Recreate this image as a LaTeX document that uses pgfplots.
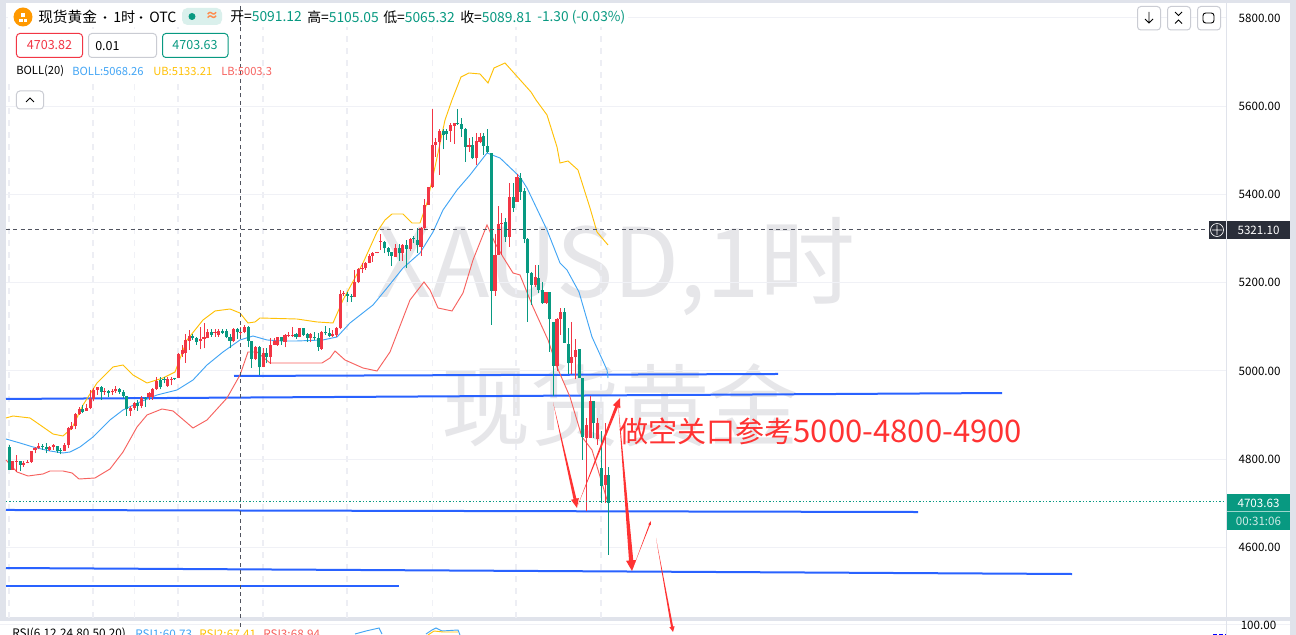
\documentclass[border=0pt]{standalone}
\usepackage{fontspec}
\setmainfont{Noto Sans CJK SC}
\usepackage{pgfplots}
\usepackage{pgfplotstable}
\pgfplotsset{compat=1.18}
\usetikzlibrary{calc}
\definecolor{cUp}{HTML}{F23645}
\definecolor{cDn}{HTML}{089981}
\definecolor{cBand}{HTML}{E0E3EB}
\definecolor{cGrid}{HTML}{F0F1F6}
\definecolor{cMark}{HTML}{E6E6E9}
\definecolor{cBoll}{HTML}{42A5F5}
\definecolor{cUB}{HTML}{FFC107}
\definecolor{cLB}{HTML}{F7625F}
\definecolor{cTrend}{HTML}{2962FF}
\definecolor{cArrow}{HTML}{FF3333}
\definecolor{cCross}{HTML}{50535E}
\definecolor{cTag}{HTML}{2A2E39}
\tikzset{px/.style={x=.75pt,y=-.75pt,xshift=-4.5pt,yshift=463.5pt}}
\newcommand\taper[7]{%
  \coordinate (S) at (axis cs:#1,#2);
  \coordinate (E) at (axis cs:#3,#4);
  \coordinate (H) at ($(E)!#6!(S)$);
  \fill[cArrow] (S) -- ($(H)!#5!90:(S)$) -- ($(H)!#7!90:(S)$) -- (E)
    -- ($(H)!#7!-90:(S)$) -- ($(H)!#5!-90:(S)$) -- cycle;
}
% candles: x(pixel) body bottom, body top, low, high
\pgfplotstableread{
x bot top lo hi
12.3 4775.7 4796.1 4775.7 4796.1
16.3 4794 4795.3 4771.9 4809.7
23.3 4787 4792.3 4783.2 4796.1
27.3 4794 4794.6 4790.8 4798.3
31.3 4794.6 4818.7 4792.3 4818.7
35 4821 4825.5 4813.4 4828.5
38.3 4825.5 4830 4822.5 4836
49.7 4821 4828.5 4819.5 4830
53.3 4828.5 4831.6 4821 4834.6
64.3 4819.5 4832.3 4819.5 4837.6
68.3 4832.3 4871.6 4824.8 4872.4
71.7 4867.8 4875.4 4866.3 4885.2
75.3 4875.4 4902.6 4867.8 4904.1
79.3 4902.6 4914.7 4900.3 4917.7
86.3 4910.1 4917 4910.1 4925.2
90.3 4915.4 4935.8 4913.2 4957
93.7 4935.8 4957 4932 4960.7
97.3 4957 4963 4945.6 4964.5
104.7 4954 4955.5 4945.6 4960.7
112.3 4951.7 4955.5 4945.6 4959.2
115.7 4955.5 4959.2 4950.9 4966
130.7 4910.1 4916.2 4898 4920.7
134.7 4916.2 4926.7 4911.6 4930.5
141.3 4920.7 4938.1 4915.4 4943.4
149 4940.3 4949.4 4934.3 4953.2
152.3 4940.3 4960 4934.3 4960.7
156.3 4959.2 4977.4 4957 4987.2
167.7 4966 4982.6 4964.5 4985.7
171.3 4981.1 4982.6 4967.5 4985.7
178.7 4984.9 5038.5 4983.4 5040
182.3 5038.5 5047.6 5032.5 5060
185.7 5041.6 5070.3 5018.9 5083.9
189.3 5068.8 5079.3 5047.6 5093
200.3 5068.8 5071.8 5049.1 5100.5
204 5073.3 5077.8 5051.4 5108
207.3 5074 5088.4 5074 5094.5
215 5086.9 5089.2 5077.8 5094.5
218.7 5081.6 5090.7 5077.8 5094.5
233.3 5068.8 5095.2 5065 5096.7
240.7 5086.9 5087.6 5080.1 5100.5
244.7 5089.2 5100.5 5085.4 5104.2
255.3 5027.2 5055.2 5024.9 5056.7
263.3 5009.8 5040 5008.3 5052.9
270.3 5032.5 5058.9 5015.9 5074
274.3 5058.9 5068.8 5058.9 5074
277.7 5058.9 5076.3 5056.7 5077.8
285 5066.5 5081.6 5053.6 5083.9
288.7 5080.8 5082.3 5076.3 5089.2
292.3 5080.8 5082.3 5077.8 5099
299.3 5077.8 5096.7 5076.3 5098.2
310.7 5074 5083.9 5065 5085.4
321.7 5049.9 5089.2 5047.6 5090.7
332.7 5080.1 5083.9 5076.3 5092.9
336.7 5081.6 5096.7 5077.8 5099
340.3 5096.7 5174.5 5094.4 5183.6
343.7 5175.3 5176.8 5170 5182
354.7 5168.5 5202.4 5167 5228.9
358.3 5202.4 5231.2 5198.7 5232.7
362 5231.2 5234.2 5222.8 5245.5
365.7 5232.7 5245.5 5228.9 5247.8
369.3 5245.5 5261.4 5244 5264.4
372.7 5261.4 5268.2 5247.8 5270.4
377 5268.2 5269.7 5266.7 5270.4
380.7 5292.3 5293.9 5274.2 5309.7
395.3 5259.1 5278 5259.1 5287.8
402.7 5266.7 5285.5 5250 5287.8
410.3 5276.5 5299.1 5272.7 5300.7
421 5281.8 5323.4 5260.7 5327.1
424.7 5323.4 5376.2 5321.1 5389.1
428.3 5376.2 5416.3 5376.2 5416.3
432.3 5416.3 5512.2 5414 5593.8
435.7 5512.2 5519.8 5485.8 5527.3
439.3 5519.8 5544.7 5444.2 5547.7
450.3 5544.7 5557.5 5519.8 5561.3
454.3 5556 5561.3 5514.5 5561.3
469 5508.4 5512.2 5497.1 5527.3
476.7 5482 5521.3 5466.9 5538.7
480 5519.8 5531.1 5516 5538.7
495 5182.1 5262.9 5170.8 5309.8
498.7 5262.9 5333.2 5262.9 5374
501.7 5333.2 5334.7 5262.9 5357.4
509.3 5304.5 5393.6 5281.8 5425.4
517 5383.8 5439 5383.8 5446.5
535.7 5195 5212.3 5191.2 5240.3
546 5153.4 5179.8 5151.9 5179.8
557 5012.1 5117.1 5000.8 5119.4
560.7 5117.1 5134.5 5081.6 5143.5
571.7 5018.9 5031 4993.2 5110.3
575.7 5031 5047.6 4981.1 5071.8
586.3 4847.4 4877.6 4682.7 4892.7
590.3 4848.9 4932 4847.4 4943.4
597.3 4845.9 4881.4 4832.3 4892.7
605.3 4741.7 4764.3 4700.1 4881.4
}\upT
\pgfplotstableread{
x bot top lo hi
9.3 4775.7 4828.5 4775.7 4832.3
20.3 4787 4796.1 4773.4 4796.1
42.3 4828.5 4830 4821 4834.6
46.3 4822.5 4828.5 4813.4 4836.1
57.3 4818.7 4830 4815 4830
60.7 4818.7 4820 4811.2 4824.8
82.7 4907.9 4914.7 4904.1 4923
101.3 4953.2 4964.5 4934.3 4966
108.3 4950.9 4955.5 4940.3 4957
119.7 4953.2 4959.2 4947.9 4962.2
123.3 4943.4 4953.2 4938.1 4957
126.7 4913.2 4943.4 4898 4943.4
137.3 4920.7 4926.7 4910.1 4934.3
145.3 4937.3 4938.8 4919.2 4941.9
160.3 4963 4979.6 4958.5 4987.2
164 4979.6 4981.1 4972 4985.7
174.7 4982 4983.4 4979.6 4984.9
192.7 5074 5079.3 5070.3 5083.9
196.7 5066.5 5074 5059 5077.8
211.3 5081.6 5087.7 5077.8 5094.5
222.7 5086.9 5091.4 5083.9 5094.5
226.3 5076.3 5091.4 5074 5094.5
230 5068.8 5077.8 5051.4 5083.9
237.3 5087.6 5095.2 5072.5 5096.7
248.3 5068.8 5100.5 5053.6 5102
251.7 5027.2 5068 5006.8 5068.8
259.3 5008.3 5055.2 4990.2 5056.7
266.7 5031 5040 5017.4 5051.4
281.7 5068.8 5076.3 5058.9 5077.8
296 5076.3 5083.9 5072.5 5085.4
303.3 5081.6 5096.7 5079.3 5098.2
307.3 5075.5 5083.1 5066.5 5085.4
314.7 5074 5076.3 5070.3 5089.2
318.3 5055.2 5074 5046.1 5085.4
325.7 5085.4 5087.6 5081.6 5102
329.3 5080.1 5085.4 5076.3 5096.7
347.7 5170 5174.5 5157.1 5179.8
351.3 5167 5170 5157.1 5174.5
384.3 5278 5293.1 5266.7 5295.4
388.3 5268.9 5278 5261.4 5280.3
391.7 5261.4 5268.9 5238.7 5270.4
399.3 5266.7 5278 5250 5287.8
406.3 5275.7 5285.5 5234.2 5296.9
413.7 5299.1 5300.7 5289.3 5306.7
417.3 5285.5 5296.9 5268.2 5323.3
443.3 5534.9 5544.7 5502.4 5547.7
446.7 5536.4 5544.7 5523.6 5547.7
457.7 5559.8 5562.8 5557.5 5593
461.7 5548.5 5559.8 5531.1 5572.7
465.3 5508.4 5548.5 5474.5 5550
472.7 5482 5512.2 5479.7 5531.1
483.7 5510 5532.6 5489.6 5540.2
487.7 5495.6 5510 5493.3 5548.5
491.7 5182.1 5494.8 5104.3 5494.8
505.7 5304.5 5338.5 5293.2 5346
513.3 5370.2 5393.6 5361.1 5425.4
520.3 5406.5 5436.7 5387.6 5448
524.3 5299.2 5408 5289.4 5414
527.7 5222.9 5299.2 5111.9 5300.7
531.7 5195 5222.9 5149.6 5225.2
538.7 5183.6 5210 5176.1 5240.3
542.3 5153.4 5183.6 5151.9 5202.5
549.7 5117.1 5179 5043.8 5179
553.3 5012.1 5110.3 4943.4 5111.8
564.3 5064.2 5134.5 5064.2 5143.5
568.3 5017.4 5061.2 4993.2 5096.7
579.3 4983.4 5049.1 4983.4 5049.1
582.3 4851.2 4983.4 4798.3 4983.4
593.3 4881.4 4932 4847.4 4932
601.3 4739.4 4779.4 4700.1 4864
608.7 4701.6 4764.3 4583 4783.2
}\dnT
\begin{document}
\begin{tikzpicture}
% page and frame, in pixels of the screenshot
\begin{scope}[px]
\fill[white] (0,0) rectangle (1296,635);
\fill[cBand] (0,0) rectangle (1296,3);
\fill[cBand] (0,0) rectangle (6,618);
\fill[cBand] (1290,0) rectangle (1296,635);
\fill[cBand] (0,617) rectangle (1296,621.5);
\draw[cGrid,line width=.75pt] (0,624.5) -- (1290,624.5);
\draw[cBand,line width=.75pt] (1226.5,3) -- (1226.5,635);
\node[cMark,font=\fontsize{72}{72}\selectfont] at (616,267) {XAUSD,1时};
\node[cMark,font=\fontsize{67}{67}\selectfont] at (620,405) {现货黄金};
\end{scope}
\begin{axis}[
  name=a, scale only axis, width=915pt, height=459pt, clip=false,
  xmin=6, xmax=1226, ymin=4440.2, ymax=5827.2,
  axis line style={draw=none}, major tick length=0pt, minor tick length=0pt,
  ytick={4600,4800,5000,5200,5400,5600,5800},
  ytick pos=right, yticklabel pos=right,
  yticklabel style={font=\fontsize{8.7}{10}\selectfont, xshift=6pt, text=black,
    /pgf/number format/.cd, fixed, zerofill, precision=2, 1000 sep={}, assume math mode=true},
  xtick={9,93,178,263,347,516,601}, xticklabels={},
  minor xtick={134,432},
  ymajorgrids, xmajorgrids, xminorgrids,
  y grid style={cGrid,line width=.75pt},
  x grid style={cGrid!80!cBand,line width=1pt,dash pattern=on 4.5pt off 4.5pt},
  minor x grid style={cGrid,line width=.75pt},
]
% level lines
\addplot[cTrend,line width=1.5pt] coordinates {(234,4988.7) (778,4993.2)};
\addplot[cTrend,line width=1.5pt] coordinates {(6,4936.6) (1002,4950.1)};
\addplot[cTrend,line width=1.5pt] coordinates {(6,4685) (918,4680.4)};
\addplot[cTrend,line width=1.5pt] coordinates {(6,4553.5) (1072,4539.9)};
\addplot[cTrend,line width=1.5pt] coordinates {(6,4512.8) (399,4512.8)};
% Bollinger bands
\addplot[cBoll,line width=.7pt] coordinates {
(6,4845.9) (20,4836.8) (33,4827.8) (50,4818.7) (63,4814.2) (70,4816.4) (80,4827.8) (93,4850.4)
(110,4889) (123,4911.6) (140,4929.8) (157,4945.6) (177,4956.9) (193,4979.6) (207,5013.6)
(223,5043.1) (240,5070.3) (253,5079.3) (267,5070.3) (283,5068) (297,5068) (323,5070.3)
(337,5077.1) (350,5108.8) (373,5149.6) (387,5188.1) (403,5233.4) (420,5267.4) (433,5315)
(443,5364.9) (457,5410.2) (470,5444.2) (487,5494.1) (500,5482.7) (520,5439.7) (527,5414.7)
(547,5319.6) (560,5244.8) (567,5228.9) (579,5179) (592,5077.1) (607,5002.3) (608,4984.1)};
\addplot[cUB,line width=.7pt] coordinates {
(6,4893.5) (13,4898) (30,4893.5) (43,4873.1) (53,4857.2) (63,4852.7) (72,4870.8) (83,4922.9)
(97,4972.8) (113,5009.1) (123,5013.6) (133,4990.9) (147,4972.8) (163,4984.1) (175,4997.7)
(187,5070.3) (203,5115.6) (215,5136) (230,5140.5) (240,5131.4) (248,5108.8) (255,5111.1)
(260,5120.1) (297,5117.8) (317,5111.1) (333,5108.8) (343,5160.9) (363,5244.8) (377,5315)
(385,5342.2) (392,5355.8) (403,5355.8) (412,5335.4) (420,5335.4) (427,5380.8) (435,5462.3)
(445,5568.8) (452,5614.2) (461,5666.3) (469,5675.4) (480,5673.1) (488,5652.7) (494,5686.7)
(505,5698) (531,5632.3) (536,5614.2) (547,5580.2) (557,5507.7) (560,5471.4) (568,5475.9)
(578,5455.5) (590,5369.4) (597,5315) (608,5285.6)};
\addplot[cLB,line width=.7pt] coordinates {
(6,4798.3) (17,4771.1) (28,4762) (43,4766.6) (50,4773.4) (63,4773.4) (72,4768.9) (79,4755.2)
(95,4757.5) (110,4777.9) (123,4816.4) (137,4873.1) (147,4900.3) (162,4913.9) (173,4909.4)
(193,4870.8) (207,4889) (227,4938.8) (240,4990.9) (248,5043.1) (257,5043.1) (270,5018.1)
(322,5018.1) (330,5029.5) (335,5045.3) (345,5024.9) (363,5006.8) (377,5000) (390,5043.1)
(410,5160.9) (424,5201.7) (430,5183.6) (438,5142.8) (452,5136) (463,5176.8) (473,5251.6)
(487,5330.9) (495,5290.1) (503,5258.4) (513,5222.1) (520,5217.6) (533,5145) (548,5070.3)
(557,5009.1) (570,4941.1) (582,4850.4) (592,4821) (608,4700.8)};
% candles
\addplot[draw=none,no markers,error bars/.cd,y dir=plus,y explicit,error mark=none,
  error bar style={draw=cUp,line width=.75pt}]
  table[x=x,y=lo,y error plus expr=\thisrow{hi}-\thisrow{lo}] {\upT};
\addplot[draw=none,no markers,error bars/.cd,y dir=plus,y explicit,error mark=none,
  error bar style={draw=cUp,line width=2.3pt}]
  table[x=x,y=bot,y error plus expr=\thisrow{top}-\thisrow{bot}] {\upT};
\addplot[draw=none,no markers,error bars/.cd,y dir=plus,y explicit,error mark=none,
  error bar style={draw=cDn,line width=.75pt}]
  table[x=x,y=lo,y error plus expr=\thisrow{hi}-\thisrow{lo}] {\dnT};
\addplot[draw=none,no markers,error bars/.cd,y dir=plus,y explicit,error mark=none,
  error bar style={draw=cDn,line width=2.3pt}]
  table[x=x,y=bot,y error plus expr=\thisrow{top}-\thisrow{bot}] {\dnT};
% crosshair and last price
\addplot[cCross,line width=.6pt,dash pattern=on 3pt off 2.5pt] coordinates {(240,4440.2) (240,5827.2)};
\addplot[cCross,line width=.6pt,dash pattern=on 3pt off 2.5pt] coordinates {(6,5321.1) (1226,5321.1)};
\addplot[cDn,line width=.7pt,dash pattern=on 1pt off 1.5pt] coordinates {(6,4703.63) (1226,4703.63)};
% hand drawn arrows
\taper{553}{4929.7}{577}{4689.5}{1.1pt}{7pt}{3pt}
\taper{578}{4696.3}{620}{4938.8}{1.1pt}{7pt}{3pt}
\taper{618}{4929.7}{632}{4546.7}{1.6pt}{8pt}{3.8pt}
\taper{633}{4553.5}{651}{4660.1}{.4pt}{3pt}{1pt}
\taper{656}{4621.5}{673}{4408.5}{.8pt}{4pt}{2pt}
\end{axis}
\begin{scope}[px,every node/.style={inner sep=0pt,anchor=west}]
\node[text=cArrow,font=\fontsize{21.8}{24}\selectfont] at (619,431) {做空关口参考{\fontsize{23.3}{24}\selectfont 5000-4800-4900}};
% legend row
\fill[white] (8,3) rectangle (628,27);
\fill[white] (8,29) rectangle (232,79);
\draw[cCross,line width=.6pt,dash pattern=on 3pt off 2.5pt] (240,6) -- (240,27);
\fill[orange!80!yellow] (23,17) circle (9.5);
\fill[white] (19.5,19) rectangle (23,22.5);
\fill[white] (24,19) rectangle (27.5,22.5);
\fill[white] (21.5,13.5) rectangle (25.5,17.5);
\node[font=\fontsize{11}{12}\selectfont] at (38,17) {现货黄金};
\fill[black] (105,17.5) circle (1.4);
\node[font=\fontsize{10.6}{12}\selectfont] at (113,17) {1时};
\fill[black] (141,17.5) circle (1.4);
\node[font=\fontsize{10.6}{12}\selectfont] at (149,17) {OTC};
\fill[cDn!15,rounded corners=4pt] (182,8) rectangle (222,25);
\fill[cDn] (192,16.5) circle (3.5);
\node[anchor=center,text=orange!70!red!70,font=\bfseries\fontsize{10}{12}\selectfont] at (212,16.5) {≈};
\node[font=\fontsize{10.4}{12}\selectfont] at (230,17) {开=\textcolor{cDn}{5091.12}};
\node[font=\fontsize{10.4}{12}\selectfont] at (307,17) {高=\textcolor{cDn}{5105.05}};
\node[font=\fontsize{10.4}{12}\selectfont] at (383,17) {低=\textcolor{cDn}{5065.32}};
\node[font=\fontsize{10.4}{12}\selectfont] at (460,17) {收=\textcolor{cDn}{5089.81}};
\node[text=cDn,font=\fontsize{10.3}{12}\selectfont] at (537,17) {-1.30 (-0.03\%)};
\draw[cUp,line width=.75pt,rounded corners=2.5pt,fill=white] (16.5,33.5) rectangle (82.5,57.5);
\draw[cBand!90!black,line width=.75pt,rounded corners=2.5pt,fill=white] (88.5,33.5) rectangle (156.5,57.5);
\draw[cDn,line width=.75pt,rounded corners=2.5pt,fill=white] (162.5,33.5) rectangle (228,57.5);
\node[anchor=center,text=cUp,font=\fontsize{9.4}{12}\selectfont] at (49.5,45) {4703.82};
\node[font=\fontsize{9.4}{12}\selectfont] at (95,46) {0.01};
\node[anchor=center,text=cDn,font=\fontsize{9.4}{12}\selectfont] at (195,45) {4703.63};
\node[font=\fontsize{8.4}{10}\selectfont] at (16,71) {BOLL(20)};
\node[text=cBoll,font=\fontsize{8.4}{10}\selectfont] at (72,71) {BOLL:5068.26};
\node[text=cUB,font=\fontsize{8.4}{10}\selectfont] at (153,71) {UB:5133.21};
\node[text=cLB,font=\fontsize{8.4}{10}\selectfont] at (221,71) {LB:5003.3};
\draw[cBand!90!black,line width=.75pt,rounded corners=2.5pt,fill=white] (16.5,91) rectangle (43.5,109);
\draw[black,line width=.7pt] (26,102) -- (30,98) -- (34,102);
% top right buttons
\foreach \xx in {1137.5,1167.5,1197.5}{
  \draw[cBand!90!black,line width=.75pt,rounded corners=2.5pt,fill=white] (\xx,6.5) rectangle ++(23,23.5);}
\draw[black,line width=.7pt] (1149,12) -- (1149,23) (1145,19) -- (1149,23) -- (1153,19);
\draw[black,line width=.6pt] (1175,12) -- (1178.5,15.5) -- (1182,12) (1175,23.5) -- (1178.5,20) -- (1182,23.5);
\draw[black,line width=.7pt,rounded corners=2pt] (1203,13) rectangle (1214,23);
% price tags
\fill[cTag] (1208.5,221) rectangle (1290,239);
\draw[cBand,line width=.75pt] (1226.5,221) -- (1226.5,239);
\node[anchor=center,text=white,font=\fontsize{8.7}{10}\selectfont] at (1258.5,230) {5321.10};
\draw[white,line width=.5pt] (1217,230) circle (6.5) (1212,230) -- (1222,230) (1217,225) -- (1217,235);
\fill[cDn] (1227,494) rectangle (1290,530);
\draw[white!60!cDn,line width=.4pt] (1227,511) -- (1290,511);
\node[anchor=center,text=white,font=\fontsize{8.7}{10}\selectfont] at (1258.5,503) {4703.63};
\node[anchor=center,text=white!80!cDn,font=\fontsize{8.7}{10}\selectfont] at (1258.5,521) {00:31:06};
% RSI pane
\node[font=\fontsize{8.8}{10}\selectfont] at (12,634) {RSI(6,12,24,80,50,20)};
\node[text=cBoll,font=\fontsize{8.8}{10}\selectfont] at (135,634) {RSI1:60.73};
\node[text=cUB,font=\fontsize{8.8}{10}\selectfont] at (199,634) {RSI2:67.41};
\node[text=cLB,font=\fontsize{8.8}{10}\selectfont] at (263,634) {RSI3:68.94};
\draw[cCross,line width=.6pt,dash pattern=on 3pt off 2.5pt] (240,623) -- (240,627);
\draw[cBoll,line width=.7pt] (355,634) -- (366,631) -- (379,628) -- (382,634);
\draw[cBoll,line width=.7pt] (426,634) -- (432,630) -- (436,628) -- (442,631) -- (458,630) -- (460,635);
\draw[cUB,line width=.7pt] (428,635) -- (434,631) -- (443,632) -- (458,632);
\draw[blue,line width=1pt,dash pattern=on 3pt off 1.5pt] (1213,634.5) -- (1226,634.5);
\node[anchor=center,font=\fontsize{8.7}{10}\selectfont] at (1258.5,625) {100.00};
\end{scope}
\pgfresetboundingbox
\path[use as bounding box,px] (0,0) rectangle (1296,635);
\end{tikzpicture}
\end{document}
